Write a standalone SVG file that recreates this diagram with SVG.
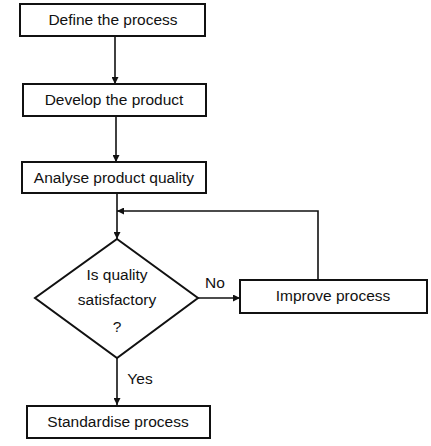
<svg xmlns="http://www.w3.org/2000/svg" width="431" height="446" viewBox="0 0 431 446">
<style>
.box{fill:#fff;stroke:#111;stroke-width:2}
.t{font-family:"Liberation Sans",Arial,sans-serif;font-size:15.5px;fill:#111;text-anchor:middle}
.c{fill:none;stroke:#111;stroke-width:1.6}
</style>
<defs>
<marker id="ah" viewBox="0 0 10 10" refX="10" refY="5" markerWidth="11" markerHeight="7" markerUnits="userSpaceOnUse" orient="auto">
<path d="M0,0 L10,5 L0,10 Z" fill="#111"/>
</marker>
</defs>
<rect width="431" height="446" fill="#fff"/>
<g id="connectors">
<line class="c" x1="115" y1="36" x2="115" y2="84" marker-end="url(#ah)"/>
<line class="c" x1="116" y1="116" x2="116" y2="162" marker-end="url(#ah)"/>
<line class="c" x1="117" y1="193" x2="117" y2="239" marker-end="url(#ah)"/>
<polyline class="c" points="318,280 318,211 117,211" marker-end="url(#ah)"/>
<line class="c" x1="198" y1="298" x2="240" y2="298" marker-end="url(#ah)"/>
<line class="c" x1="117" y1="358" x2="117" y2="405" marker-end="url(#ah)"/>
<text class="t" x="215" y="288">No</text>
<text class="t" x="140" y="384">Yes</text>
</g>
<g id="define">
<rect class="box" x="20" y="4" width="185" height="32"/>
<text class="t" x="113" y="25">Define the process</text>
</g>
<g id="develop">
<rect class="box" x="23" y="84" width="183" height="32"/>
<text class="t" x="114" y="105">Develop the product</text>
</g>
<g id="analyse">
<rect class="box" x="22" y="162" width="184" height="31"/>
<text class="t" x="114" y="183">Analyse product quality</text>
</g>
<g id="decision">
<polygon class="box" points="117,239 198,298 117,358 35,298"/>
<text class="t" x="117" y="280">Is quality</text>
<text class="t" x="117" y="305">satisfactory</text>
<text class="t" x="117" y="332">?</text>
</g>
<g id="improve">
<rect class="box" x="240" y="280" width="187" height="33"/>
<text class="t" x="333" y="301">Improve process</text>
</g>
<g id="standardise">
<rect class="box" x="27" y="406" width="183" height="32"/>
<text class="t" x="118" y="427">Standardise process</text>
</g>
</svg>
